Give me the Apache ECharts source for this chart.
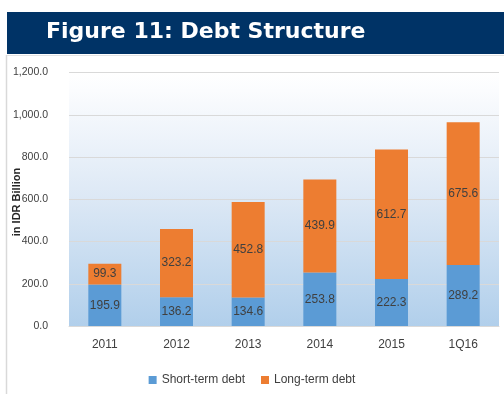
<!DOCTYPE html>
<html><head><meta charset="utf-8">
<script src="https://cdn.jsdelivr.net/npm/echarts@6/dist/echarts.min.js"></script>
<style>html,body{margin:0;padding:0;background:#fff}#c{width:504px;height:394px}</style>
</head><body><div id="c"></div>
<script>
var categories = ['2011','2012','2013','2014','2015','1Q16'];
var shortTerm = [195.9,136.2,134.6,253.8,222.3,289.2];
var longTerm = [99.3,323.2,452.8,439.9,612.7,675.6];
var seriesNames = ['Short-term debt','Long-term debt'];
var titleText = 'Figure 11: Debt Structure';
var yName = 'in IDR Billion';

var chart = echarts.init(document.getElementById('c'), null, {renderer:'canvas'});
var font = 'Liberation Sans';
var lbl = {show:true, position:'inside', color:'#404040', fontSize:12, fontFamily:font,
  formatter:function(p){return p.value.toFixed(1);}};
chart.setOption({
  animation:false,
  textStyle:{fontFamily:font},
  graphic:[
    {type:'rect', z:-10, shape:{x:7,y:12,width:497,height:42}, style:{fill:'#003366'}},
    {type:'text', z:10, left:46, top:21, style:{text:titleText, fill:'#fff', font:'bold 22px "DejaVu Sans"'}},
    {type:'line', z:-10, shape:{x1:6.5,y1:55,x2:6.5,y2:394}, style:{stroke:'#d9d9d9',lineWidth:1.5}},
    {type:'line', z:-10, shape:{x1:7,y1:55.5,x2:504,y2:55.5}, style:{stroke:'#e3e3e3',lineWidth:1}},
    {type:'text', z:10, x:16.5, y:202, rotation:Math.PI/2,
      style:{text:yName, fill:'#262626', font:'bold 11px "Liberation Sans"', align:'center', verticalAlign:'middle'}}
  ],
  legend:{data:seriesNames, left:'center', top:369, itemWidth:8, itemHeight:8, itemGap:16,
    icon:'rect', textStyle:{color:'#404040', fontSize:12, fontFamily:font}},
  grid:{left:69, right:5, top:72.5, bottom:68, containLabel:false, outerBoundsMode:'none',
    show:true, borderWidth:0,
    backgroundColor:{type:'linear',x:0,y:0,x2:0,y2:1,colorStops:[
      {offset:0,color:'#ffffff'},{offset:0.07,color:'#fbfcfe'},{offset:0.5,color:'#dce8f5'},{offset:1,color:'#b1cfeb'}]}},
  xAxis:{type:'category', data:categories,
    axisLine:{lineStyle:{color:'#d9d9d9'}}, axisTick:{show:false},
    axisLabel:{color:'#404040', fontSize:12, margin:13, fontFamily:font}},
  yAxis:{type:'value', min:0, max:1200, interval:200,
    axisLine:{show:false}, axisTick:{show:false},
    splitLine:{lineStyle:{color:'#d9d9d9'}},
    axisLabel:{color:'#404040', fontSize:10.5, margin:21, fontFamily:font,
      formatter:function(v){return v.toLocaleString('en-US',{minimumFractionDigits:1,maximumFractionDigits:1});}}},
  series:[
    {name:seriesNames[0], type:'bar', stack:'d', data:shortTerm, barWidth:33,
      itemStyle:{color:'#5b9bd5'}, label:lbl},
    {name:seriesNames[1], type:'bar', stack:'d', data:longTerm, barWidth:33,
      itemStyle:{color:'#ed7d31'}, label:lbl}
  ]
});
</script></body></html>
